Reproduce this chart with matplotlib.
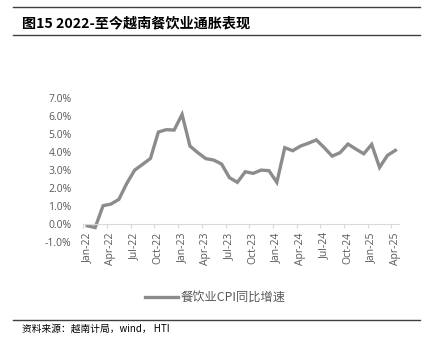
import matplotlib
matplotlib.use("Agg")
import matplotlib.pyplot as plt
from matplotlib.lines import Line2D
from matplotlib.ticker import FixedLocator, FuncFormatter

plt.rcParams['font.family'] = ['Open Sans', 'Noto Sans CJK SC', 'DejaVu Sans']

# 越南餐饮业CPI同比增速 (%), 2022-01 至 2025-04
months = ["Jan-22", "Feb-22", "Mar-22", "Apr-22", "May-22", "Jun-22",
          "Jul-22", "Aug-22", "Sep-22", "Oct-22", "Nov-22", "Dec-22",
          "Jan-23", "Feb-23", "Mar-23", "Apr-23", "May-23", "Jun-23",
          "Jul-23", "Aug-23", "Sep-23", "Oct-23", "Nov-23", "Dec-23",
          "Jan-24", "Feb-24", "Mar-24", "Apr-24", "May-24", "Jun-24",
          "Jul-24", "Aug-24", "Sep-24", "Oct-24", "Nov-24", "Dec-24",
          "Jan-25", "Feb-25", "Mar-25", "Apr-25"]
cpi_yoy = [-0.10, -0.20, 1.02, 1.11, 1.37, 2.26, 3.00, 3.32, 3.65, 5.12,
           5.25, 5.23, 6.10, 4.34, 3.97, 3.64, 3.56, 3.34, 2.58, 2.32,
           2.91, 2.82, 3.00, 2.97, 2.32, 4.25, 4.08, 4.34, 4.50, 4.68,
           4.25, 3.78, 3.97, 4.45, 4.17, 3.91, 4.43, 3.15, 3.82, 4.10]

line_color = "#8c8c8c"
text_gray = "#595959"

fig = plt.figure(figsize=(4.33, 3.45), dpi=100)
ax = fig.add_axes([0.1924, 0.2986, 0.7298, 0.4166])

x = list(range(len(months)))
ax.plot(x, cpi_yoy, color=line_color, linewidth=2.4, solid_joinstyle="miter")

ax.set_xlim(-0.5, len(months) - 0.5)
ax.set_ylim(-1, 7)

# y轴
ax.set_yticks(range(-1, 8))
ax.yaxis.set_major_formatter(FuncFormatter(lambda v, p: f"{v:.1f}%"))
ax.tick_params(axis="y", length=0, pad=8.5, labelsize=7.5, labelcolor=text_gray)

# x轴：标签在类别中心，刻度线在类别边界
ax.set_xticks(x[::3])
ax.set_xticklabels(months[::3])
ax.xaxis.set_minor_locator(FixedLocator([i - 0.5 for i in x[::3]]))
ax.tick_params(axis="x", which="major", length=0, pad=6, labelsize=7.5,
               labelcolor=text_gray, labelrotation=90)
ax.tick_params(axis="x", which="minor", length=3, color="#d9d9d9", width=0.8)

for side in ["left", "right", "top"]:
    ax.spines[side].set_visible(False)
ax.spines["bottom"].set_position(("data", 0))
ax.spines["bottom"].set_color("#d9d9d9")
ax.spines["bottom"].set_linewidth(0.8)

# 图例
fig.add_artist(Line2D([145 / 433, 178 / 433], [1 - 297 / 345] * 2,
                      color=line_color, linewidth=2.4))
fig.text(181 / 433, 1 - 297 / 345, "餐饮业CPI同比增速", fontsize=8.8,
         color=text_gray, va="center", ha="left",
         family=["Noto Sans CJK SC", "Open Sans"])

# 标题与分隔线
for yy in (7, 35, 320):
    fig.add_artist(Line2D([13 / 433, 420 / 433], [1 - yy / 345] * 2,
                          color="#404040", linewidth=1.0))
fig.text(22 / 433, 1 - 23 / 345, "图15 2022-至今越南餐饮业通胀表现",
         fontsize=10.2, fontweight="bold", va="center", ha="left",
         family=["Noto Sans CJK SC", "DejaVu Sans"])
fig.text(22 / 433, 1 - 329 / 345, "资料来源：越南计局，wind， HTI",
         fontsize=7, va="center", ha="left",
         family=["Noto Sans CJK SC", "DejaVu Sans"])

fig.savefig("out.png", dpi=100)
